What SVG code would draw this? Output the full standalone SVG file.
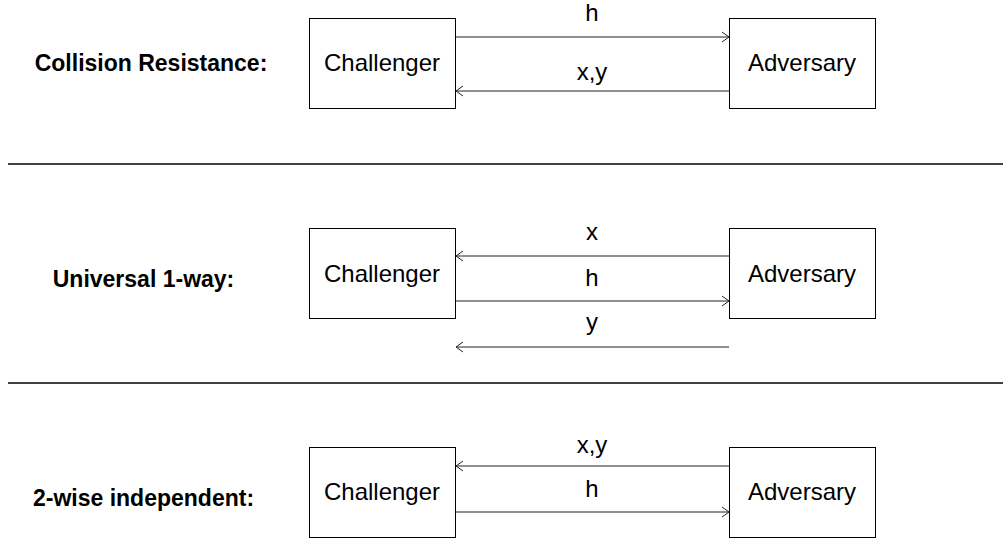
<svg xmlns="http://www.w3.org/2000/svg" width="1003" height="539" viewBox="0 0 1003 539">
<style>
.box{fill:#fff;stroke:#000;stroke-width:1}
.t{font-family:"Liberation Sans",Arial,sans-serif;font-size:24px;fill:#000;text-anchor:middle}
.b{font-family:"Liberation Sans",Arial,sans-serif;font-size:23px;font-weight:bold;fill:#000;text-anchor:middle}
.c{stroke:#222;stroke-width:1;fill:none}
.sep{stroke:#000;stroke-width:1.5}
</style>
<defs>
<marker id="ah" markerWidth="10" markerHeight="12" refX="8" refY="6" orient="auto" markerUnits="userSpaceOnUse">
<path d="M1,1 L8,6 L1,11" fill="none" stroke="#222" stroke-width="1"/>
</marker>
</defs>
<line class="sep" x1="8" y1="164" x2="1003" y2="164"/>
<line class="sep" x1="8" y1="383" x2="1003" y2="383"/>
<text class="b" x="151" y="71">Collision Resistance:</text>
<text class="b" x="143.5" y="287">Universal 1-way:</text>
<text class="b" x="143.5" y="506">2-wise independent:</text>
<g id="challenger1"><rect class="box" x="309.5" y="18.5" width="146" height="90"/><text class="t" x="382" y="71">Challenger</text></g>
<g id="adversary1"><rect class="box" x="729.5" y="18.5" width="146" height="90"/><text class="t" x="802" y="71">Adversary</text></g>
<g id="challenger2"><rect class="box" x="309.5" y="228.5" width="146" height="90"/><text class="t" x="382" y="282">Challenger</text></g>
<g id="adversary2"><rect class="box" x="729.5" y="228.5" width="146" height="90"/><text class="t" x="802" y="282">Adversary</text></g>
<g id="challenger3"><rect class="box" x="309.5" y="447.5" width="146" height="90"/><text class="t" x="382" y="500">Challenger</text></g>
<g id="adversary3"><rect class="box" x="729.5" y="447.5" width="146" height="90"/><text class="t" x="802" y="500">Adversary</text></g>
<g id="connectors">
<line class="c" x1="456" y1="37" x2="729" y2="37" marker-end="url(#ah)"/>
<line class="c" x1="729" y1="91" x2="456" y2="91" marker-end="url(#ah)"/>
<line class="c" x1="729" y1="256" x2="456" y2="256" marker-end="url(#ah)"/>
<line class="c" x1="456" y1="301" x2="729" y2="301" marker-end="url(#ah)"/>
<line class="c" x1="729" y1="347" x2="456" y2="347" marker-end="url(#ah)"/>
<line class="c" x1="729" y1="466" x2="456" y2="466" marker-end="url(#ah)"/>
<line class="c" x1="456" y1="512" x2="729" y2="512" marker-end="url(#ah)"/>
<text class="t" x="592" y="21">h</text>
<text class="t" x="592" y="80">x,y</text>
<text class="t" x="592" y="240">x</text>
<text class="t" x="592" y="286">h</text>
<text class="t" x="592" y="330">y</text>
<text class="t" x="592" y="453">x,y</text>
<text class="t" x="592" y="497">h</text>
</g>
</svg>
